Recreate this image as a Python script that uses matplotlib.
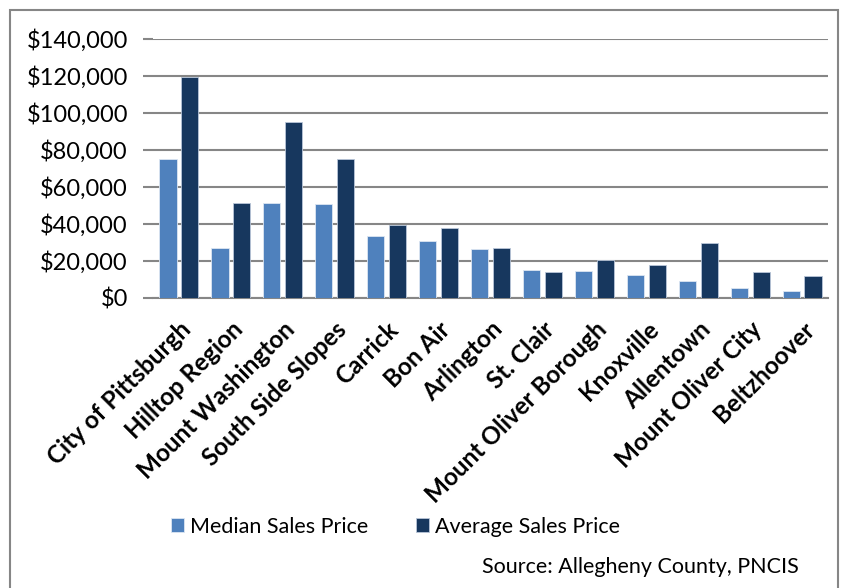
import matplotlib.pyplot as plt
import numpy as np
from matplotlib.patches import Rectangle
from matplotlib.ticker import FuncFormatter

plt.rcParams['font.family'] = ['Lato', 'DejaVu Sans']

neighborhoods = ['City of Pittsburgh', 'Hilltop Region', 'Mount Washington', 'South Side Slopes',
                 'Carrick', 'Bon Air', 'Arlington', 'St. Clair', 'Mount Oliver Borough',
                 'Knoxville', 'Allentown', 'Mount Oliver City', 'Beltzhoover']
median_price = [75000, 26900, 51200, 50800, 33500, 30600, 26300, 15300, 14400, 12300, 9400, 5600, 4000]
average_price = [119300, 51500, 95100, 75300, 39600, 38000, 27200, 14100, 20400, 18000, 29600, 13900, 11900]

fig = plt.figure(figsize=(8.45, 5.88), dpi=100)
ax = fig.add_axes([0.181, 0.4932, 0.799, 0.4405])

x = np.arange(len(neighborhoods))
w = 0.33
ax.bar(x - 0.21, median_price, w, color='#4F81BD', edgecolor='#DCE6F2', linewidth=0.6,
       label='Median Sales Price', zorder=3)
ax.bar(x + 0.21, average_price, w, color='#17375E', edgecolor='#B9C6D8', linewidth=0.6,
       label='Average Sales Price', zorder=3)

ax.set_xlim(-0.5, len(neighborhoods) - 0.5)
ax.set_ylim(0, 140000)
ax.set_yticks(range(0, 140001, 20000))
ax.yaxis.set_major_formatter(FuncFormatter(lambda v, p: '${:,.0f}'.format(v)))
ax.grid(axis='y', color='#868686', linewidth=1.5, zorder=0)
for s in ['top', 'right', 'left']:
    ax.spines[s].set_visible(False)
ax.spines['bottom'].set_color('#868686')
ax.spines['bottom'].set_linewidth(1.5)
ax.tick_params(axis='y', length=7, width=1.5, color='#868686', labelsize=17, pad=11)
ax.tick_params(axis='x', length=0, pad=14)
ax.set_xticks(x)
ax.set_xticklabels(neighborhoods, rotation=45, ha='right', rotation_mode='anchor',
                   fontsize=17.5, fontweight='bold')

fig.legend(loc='center', bbox_to_anchor=(0.468, 0.104), ncol=2, frameon=False,
           fontsize=15.5, handlelength=0.6, handleheight=0.6, handletextpad=0.3, columnspacing=2.2)
fig.text(0.945, 0.036, 'Source: Allegheny County, PNCIS', ha='right', va='center', fontsize=15.5)

fig.patches.append(Rectangle((10 / 845, -0.01), 828 / 845, 1 - 10 / 588 + 0.01,
                             transform=fig.transFigure, fill=False, edgecolor='#868686',
                             linewidth=1.5))

plt.savefig('out.png')
